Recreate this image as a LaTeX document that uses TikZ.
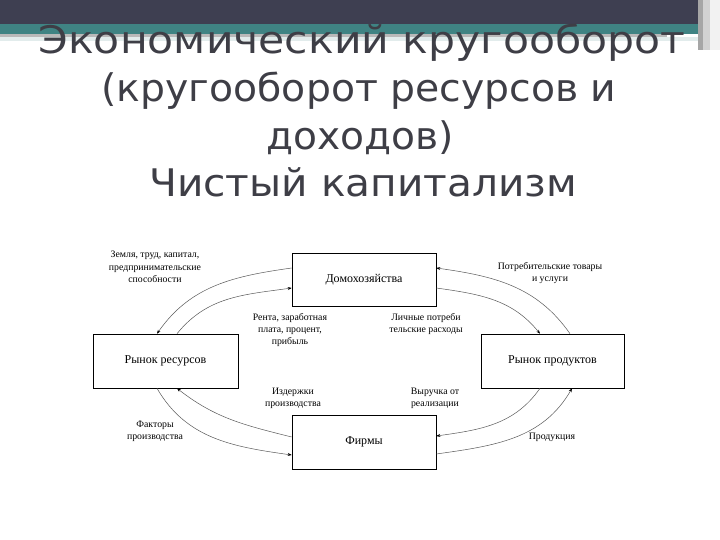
\documentclass[tikz,border=0pt]{standalone}
\usepackage{fontspec}
\setmainfont{Liberation Serif}
\newfontfamily\titleA[FakeStretch=1.12]{DejaVu Sans}
\newfontfamily\titleB[FakeStretch=1.035]{DejaVu Sans}
\newfontfamily\titleC[FakeStretch=1.03]{DejaVu Sans}
\newfontfamily\titleD[FakeStretch=1.07]{DejaVu Sans}
\usetikzlibrary{arrows.meta}
\definecolor{bandc}{HTML}{3E3F51}
\definecolor{tealc}{HTML}{3F8383}
\definecolor{titlec}{HTML}{3E3E46}
\begin{document}
\begin{tikzpicture}[x=1pt,y=1pt,
  box/.style={draw,line width=0.6pt,minimum width=144pt,minimum height=53pt,inner sep=0pt,font=\fontsize{12}{14}\selectfont},
  lbl/.style={align=center,font=\fontsize{9.8}{12.2}\selectfont,inner sep=0pt},
  flow/.style={draw=black!65,line width=0.5pt,-{Stealth[length=4pt,width=3pt,black]}},
  ttl/.style={font=\fontsize{38}{48}\selectfont,text=titlec,inner sep=0pt,anchor=base}]
\useasboundingbox (0,0) rectangle (720,540);
\fill[white] (0,0) rectangle (720,540);
% header decoration
\fill[bandc] (0,516) rectangle (698,540);
\fill[tealc] (0,506) rectangle (698,516);
\fill[gray!55] (0,503) rectangle (667,506);
\fill[tealc!15] (0,499) rectangle (707,503);
\fill[gray!70] (698,490) rectangle (703,540);
\fill[gray!35] (703,490) rectangle (710,540);
\fill[gray!10] (710,490) rectangle (720,540);
% title
\node[ttl,font=\titleA\fontsize{38}{48}\selectfont] (t1) at (362,486) {Экономический кругооборот};
\node[ttl,font=\titleB\fontsize{38}{48}\selectfont] (t2) at (359,438) {(кругооборот ресурсов и};
\node[ttl,font=\titleC\fontsize{38}{48}\selectfont] (t3) at (360,390) {доходов)};
\node[ttl,font=\titleD\fontsize{38}{48}\selectfont] (t4) at (363,343) {Чистый капитализм};
% boxes
\node[box] (hh) at (364,260.5) {Домохозяйства};
\node[box,minimum width=145pt,minimum height=54pt] (rr) at (165.5,179) {Рынок ресурсов};
\node[box,minimum width=143pt,minimum height=54pt] (rp) at (552.5,179) {Рынок продуктов};
\node[box,minimum height=54pt] (ff) at (364,98) {Фирмы};
% flows top-left
\draw[flow] ([yshift=11.5pt]hh.west) to[out=188,in=55] ([xshift=-8.5pt]rr.north);
\draw[flow] ([xshift=11.5pt]rr.north) to[out=51,in=188] ([yshift=-8.5pt]hh.west);
% flows top-right
\draw[flow] ([xshift=17.5pt]rp.north) to[out=125,in=-8] ([yshift=11.5pt]hh.east);
\draw[flow] ([yshift=-8.5pt]hh.east) to[out=-8,in=129] ([xshift=-12.5pt]rp.north);
% flows bottom-left
\draw[flow] ([xshift=-8.5pt]rr.south) to[out=-60,in=172] ([yshift=-13pt]ff.west);
\draw[flow] ([yshift=5pt]ff.west) to[out=166,in=-38] ([xshift=11.5pt]rr.south);
% flows bottom-right
\draw[flow] ([xshift=-12.5pt]rp.south) to[out=235,in=8] ([yshift=6pt]ff.east);
\draw[flow] ([yshift=-12pt]ff.east) to[out=8,in=240] ([xshift=19.5pt]rp.south);
% labels
\node[lbl] (l1) at (155,273) {Земля, труд, капитал,\\предпринимательские\\способности};
\node[lbl] (l2) at (290,210) {Рента, заработная\\плата, процент,\\прибыль};
\node[lbl] (l3) at (426,216) {Личные потреби\\тельские расходы};
\node[lbl] (l4) at (550,267) {Потребительские товары\\и услуги};
\node[lbl] (l5) at (293,142) {Издержки\\производства};
\node[lbl] (l6) at (435,142) {Выручка от\\реализации};
\node[lbl] (l7) at (155,109) {Факторы\\производства};
\node[lbl] (l8) at (552,103) {Продукция};
\end{tikzpicture}
\end{document}
